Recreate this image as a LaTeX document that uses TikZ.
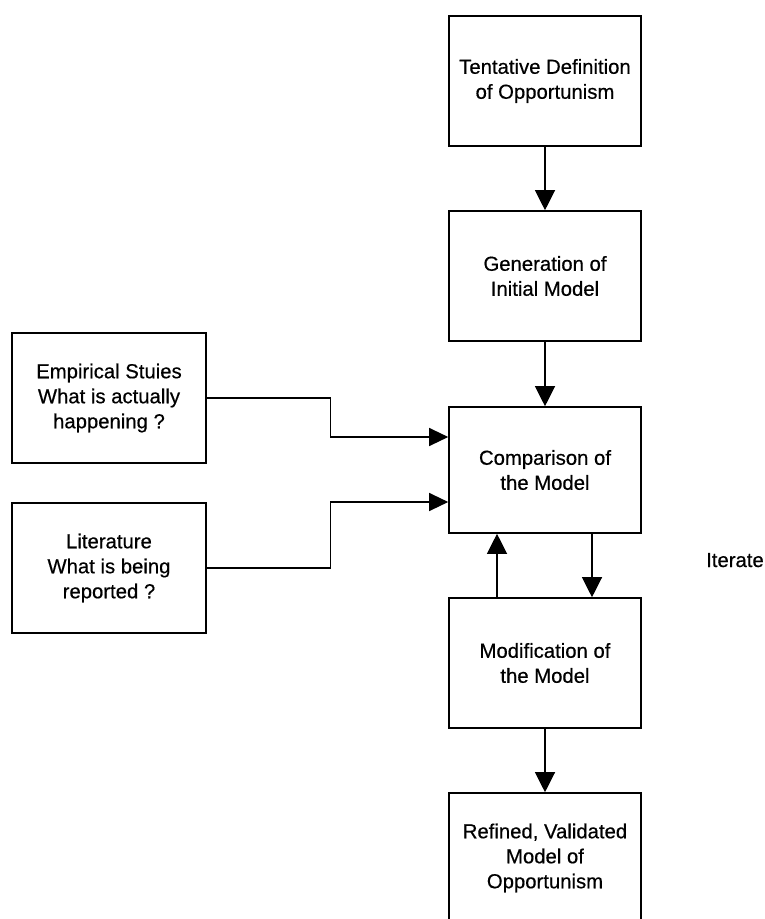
\documentclass[tikz,border=0pt]{standalone}
\usepackage{fontspec}
\setmainfont{Liberation Sans}
\newfontfamily\diagfont{Liberation Sans}[BoldFont=Liberation Sans, BoldFeatures={FakeBold=0.5}]
\usetikzlibrary{arrows.meta}
\begin{document}
\begin{tikzpicture}[x=1pt,y=-1pt,
  box/.style={draw, line width=1.6pt, minimum width=192pt, minimum height=130pt,
    inner sep=2pt, align=center, font=\diagfont\bfseries\fontsize{20.3}{25}\selectfont},
  conn/.style={line width=1.2pt, -{Triangle[width=20pt,length=20pt]}},
  hconn/.style={line width=1.2pt, -{Triangle[width=18pt,length=19pt]}}]
\useasboundingbox (0,0) rectangle (765,919);
\node[box] (T) at (545,81) {Tentative Definition\\of Opportunism};
\node[box] (G) at (545,276) {Generation of\\Initial Model};
\node[box, minimum height=126pt] (C) at (545,470) {Comparison of\\the Model};
\node[box] (M) at (545,663) {Modification of\\the Model};
\node[box] (R) at (545,858) {Refined, Validated\\Model of\\Opportunism};
\node[box, minimum width=194pt] (E) at (109,398) {Empirical Stuies\\What is actually\\happening ?};
\node[box, minimum width=194pt] (L) at (109,568) {Literature\\What is being\\reported ?};
\node[anchor=base west, inner sep=0pt, font=\diagfont\bfseries\fontsize{20.3}{25}\selectfont] (it) at (706,567) {Iterate};
\draw[conn] (T.south) -- (G.north);
\draw[conn] (G.south) -- (C.north);
\draw[hconn] (E.east) -- ++(124,0) |- ([yshift=33pt]C.west);
\draw[hconn] (L.east) -- ++(124,0) |- ([yshift=-32pt]C.west);
\draw[conn] ([xshift=-48pt]M.north) -- ([xshift=-48pt]C.south);
\draw[conn] ([xshift=47pt]C.south) -- ([xshift=47pt]M.north);
\draw[conn] (M.south) -- (R.north);
\end{tikzpicture}
\end{document}
